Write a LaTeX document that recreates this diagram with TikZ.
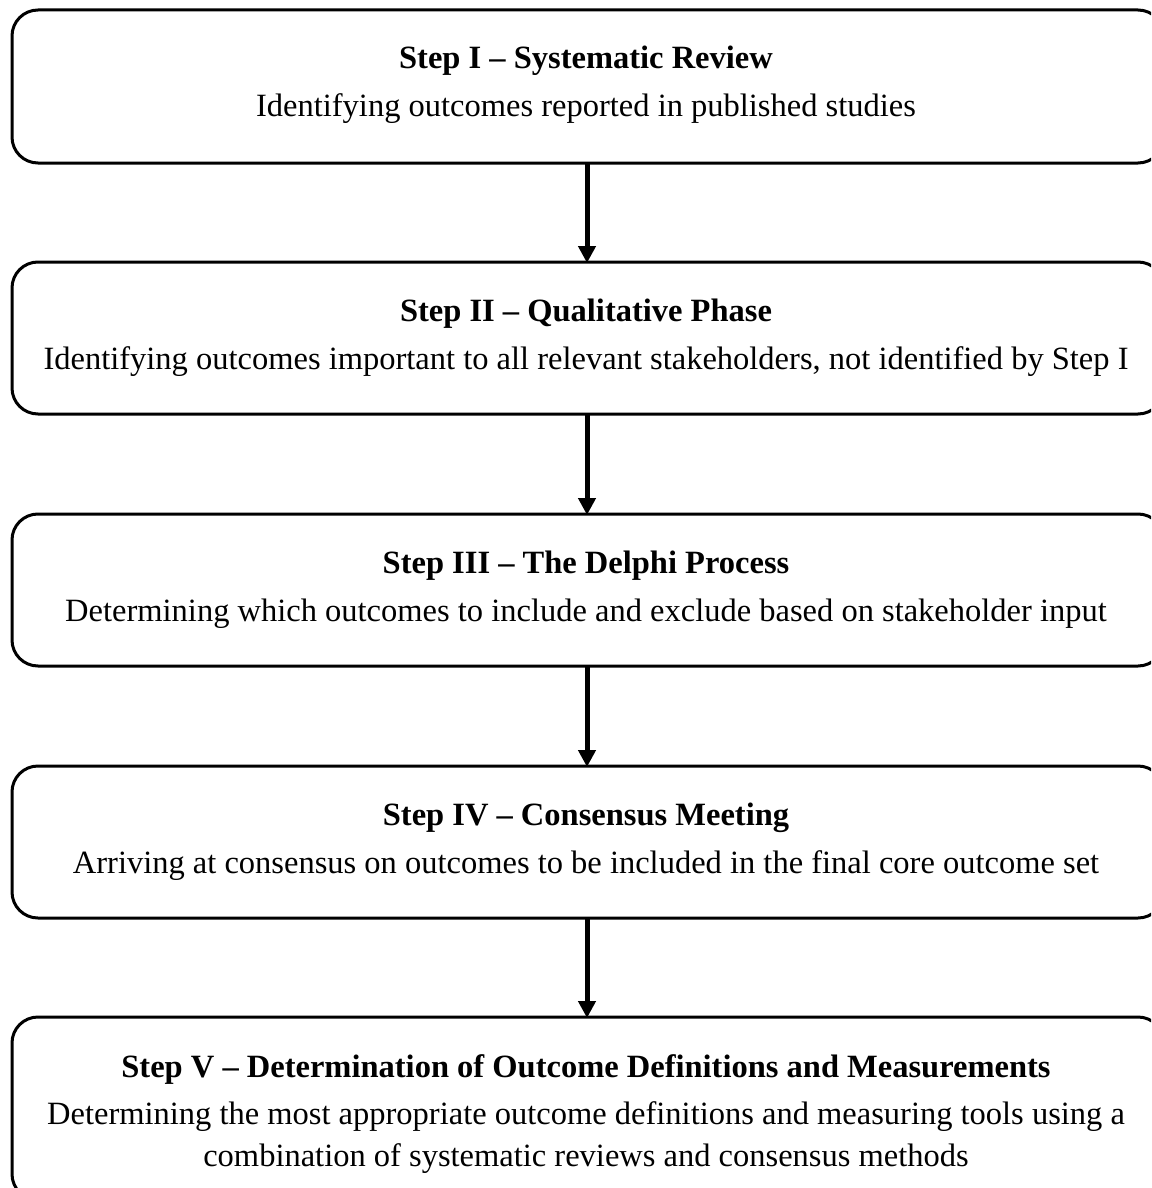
\documentclass[tikz,border=0pt]{standalone}
\usepackage{fontspec}
\setmainfont{Liberation Serif}
\usetikzlibrary{arrows.meta}
\tikzset{
  stepbox/.style={draw=black, line width=3pt, rounded corners=26pt},
  ttl/.style={font=\fontsize{32.5}{39}\selectfont\bfseries, anchor=base, inner sep=0pt},
  sub/.style={font=\fontsize{32.5}{42}\selectfont, anchor=base, align=center, inner sep=0pt},
  flow/.style={line width=5pt, -{Triangle[width=17pt,length=17pt]}, shorten >=-1pt}
}
\begin{document}
\begin{tikzpicture}[x=1pt,y=-1pt]
\useasboundingbox (0,0) rectangle (1151,1188);
\clip (0,0) rectangle (1151,1188);
\draw[stepbox] (12,10) rectangle (1164,163);
\draw[stepbox] (12,262) rectangle (1164,414);
\draw[stepbox] (12,514) rectangle (1164,666);
\draw[stepbox] (12,766) rectangle (1164,918);
\draw[stepbox] (12,1017) rectangle (1164,1200);
\coordinate (b1) at (587,163);
\coordinate (t2) at (587,262);
\coordinate (b2) at (587,414);
\coordinate (t3) at (587,514);
\coordinate (b3) at (587,666);
\coordinate (t4) at (587,766);
\coordinate (b4) at (587,918);
\coordinate (t5) at (587,1017);
\node[ttl] (h1) at (586,69) {Step I – Systematic Review};
\node[sub] (s1) at (586,117) {Identifying outcomes reported in published studies};
\node[ttl] (h2) at (586,321) {Step II – Qualitative Phase};
\node[sub] (s2) at (586,369) {Identifying outcomes important to all relevant stakeholders, not identified by Step I};
\node[ttl] (h3) at (586,573) {Step III – The Delphi Process};
\node[sub] (s3) at (586,621) {Determining which outcomes to include and exclude based on stakeholder input};
\node[ttl] (h4) at (586,825) {Step IV – Consensus Meeting};
\node[sub] (s4) at (586,873) {Arriving at consensus on outcomes to be included in the final core outcome set};
\node[ttl] (h5) at (586,1077) {Step V – Determination of Outcome Definitions and Measurements};
\node[sub] (s5) at (586,1166) {Determining the most appropriate outcome definitions and measuring tools using a\\combination of systematic reviews and consensus methods};
\draw[flow] (b1) -- (t2);
\draw[flow] (b2) -- (t3);
\draw[flow] (b3) -- (t4);
\draw[flow] (b4) -- (t5);
\end{tikzpicture}
\end{document}
